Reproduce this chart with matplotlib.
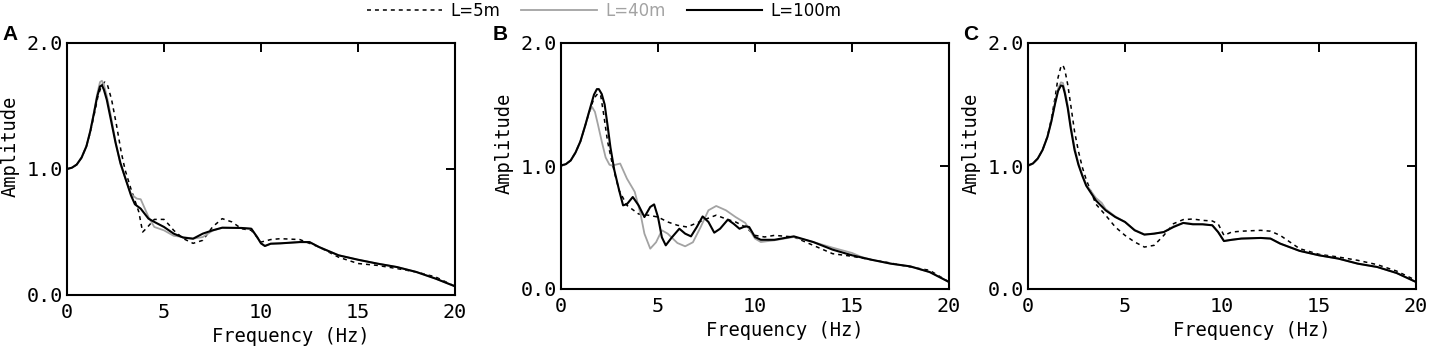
"""
Transfer-function style amplitude spectra for three pile lengths, three panels.
"""
import matplotlib
matplotlib.use('Agg')
import matplotlib.pyplot as plt

# --- panel A -------------------------------------------------------------
a_f5 = [0, 0.25, 0.5, 0.75, 1.0, 1.2, 1.4, 1.6, 1.8, 1.95, 2.1, 2.3, 2.55, 2.8, 3.0, 3.3, 3.5,
        3.7, 3.9, 4.1, 4.5, 5.0, 5.3, 5.5, 6.0, 6.5, 7.0, 7.5, 8.0, 8.5, 9.0, 9.5, 10.0, 10.5,
        11.0, 12.0, 13.0, 14.0, 15.0, 16.0, 17.0, 18.0, 19.0, 20.0]
a_5m = [1.00, 1.01, 1.035, 1.09, 1.18, 1.29, 1.43, 1.58, 1.67, 1.69, 1.66, 1.55, 1.35, 1.13, 0.99,
        0.84, 0.75, 0.66, 0.50, 0.53, 0.60, 0.60, 0.55, 0.513, 0.447, 0.41, 0.434, 0.54, 0.606,
        0.58, 0.526, 0.513, 0.42, 0.44, 0.447, 0.44, 0.38, 0.30, 0.25, 0.235, 0.21, 0.183, 0.143,
        0.069]
a_f40 = [0, 0.25, 0.5, 0.75, 1.0, 1.2, 1.4, 1.55, 1.7, 1.8, 1.9, 2.05, 2.25, 2.5, 2.75, 3.0, 3.3,
         3.6, 3.8, 4.2, 4.5, 5.0, 5.5, 6.0, 6.5, 7.0, 7.5, 8.0, 9.0, 9.5, 9.8, 10.0, 10.2, 10.5,
         11.0, 12.0, 12.5, 13.0, 14.0, 15.0, 16.0, 17.0, 18.0, 19.0, 20.0]
a_40m = [1.00, 1.01, 1.035, 1.09, 1.18, 1.30, 1.46, 1.59, 1.69, 1.70, 1.67, 1.58, 1.43, 1.22,
         1.04, 0.93, 0.80, 0.765, 0.76, 0.62, 0.54, 0.513, 0.47, 0.46, 0.447, 0.46, 0.51, 0.534,
         0.532, 0.526, 0.46, 0.41, 0.389, 0.407, 0.41, 0.42, 0.42, 0.38, 0.315, 0.28, 0.249,
         0.222, 0.183, 0.13, 0.069]
a_f100 = [0, 0.25, 0.5, 0.75, 1.0, 1.2, 1.4, 1.55, 1.7, 1.8, 1.9, 2.05, 2.25, 2.5, 2.75, 3.0, 3.3,
          3.5, 3.8, 4.2, 4.5, 5.0, 5.5, 6.0, 6.5, 7.0, 7.5, 8.0, 9.0, 9.5, 9.8, 10.0, 10.2, 10.5,
          11.0, 12.0, 12.5, 13.0, 14.0, 15.0, 16.0, 17.0, 18.0, 19.0, 20.0]
a_100m = [1.00, 1.01, 1.035, 1.09, 1.18, 1.30, 1.45, 1.57, 1.655, 1.665, 1.63, 1.55, 1.40, 1.21,
          1.05, 0.93, 0.79, 0.72, 0.685, 0.606, 0.58, 0.54, 0.487, 0.455, 0.447, 0.487, 0.513,
          0.534, 0.532, 0.526, 0.46, 0.41, 0.389, 0.407, 0.41, 0.42, 0.42, 0.38, 0.315, 0.28,
          0.249, 0.222, 0.183, 0.13, 0.069]

# --- panel B -------------------------------------------------------------
b_f5 = [0, 0.25, 0.5, 0.75, 1.0, 1.25, 1.5, 1.7, 1.9, 2.05, 2.2, 2.4, 2.6, 2.8, 3.0, 3.4, 4.0,
        4.5, 5.0, 5.5, 6.0, 6.5, 7.0, 7.5, 8.0, 8.5, 9.0, 9.5, 10.0, 10.5, 11.0, 12.0, 13.0, 14.0,
        15.0, 16.0, 17.0, 18.0, 19.0, 20.0]
b_5m = [1.00, 1.015, 1.045, 1.11, 1.20, 1.33, 1.46, 1.55, 1.59, 1.57, 1.42, 1.20, 1.05, 0.92,
        0.80, 0.68, 0.61, 0.60, 0.585, 0.545, 0.518, 0.504, 0.537, 0.57, 0.60, 0.57, 0.545, 0.504,
        0.436, 0.423, 0.436, 0.423, 0.355, 0.287, 0.266, 0.238, 0.211, 0.179, 0.152, 0.057]
b_f40 = [0, 0.25, 0.5, 0.75, 1.0, 1.25, 1.45, 1.6, 1.75, 1.9, 2.1, 2.3, 2.5, 2.6, 2.8, 3.05, 3.4,
         3.8, 4.1, 4.3, 4.6, 4.9, 5.2, 5.5, 6.0, 6.4, 6.8, 7.2, 7.6, 8.0, 8.5, 9.0, 9.5, 10.0,
         10.3, 11.0, 12.0, 13.0, 14.0, 15.0, 15.5, 16.0, 17.0, 18.0, 19.0, 20.0]
b_40m = [1.00, 1.015, 1.045, 1.11, 1.20, 1.33, 1.44, 1.48, 1.44, 1.34, 1.20, 1.07, 1.01, 1.005,
         1.01, 1.02, 0.897, 0.79, 0.61, 0.45, 0.328, 0.38, 0.477, 0.45, 0.374, 0.347, 0.38,
         0.504, 0.64, 0.675, 0.64, 0.585, 0.537, 0.41, 0.382, 0.396, 0.423, 0.382, 0.336, 0.293,
         0.26, 0.238, 0.206, 0.184, 0.138, 0.057]
b_f100 = [0, 0.25, 0.5, 0.75, 1.0, 1.25, 1.5, 1.7, 1.85, 1.95, 2.1, 2.25, 2.4, 2.55, 2.75, 3.0,
          3.2, 3.4, 3.7, 4.0, 4.3, 4.6, 4.8, 5.0, 5.2, 5.4, 5.7, 6.1, 6.4, 6.7, 7.0, 7.3, 7.6,
          7.9, 8.2, 8.6, 8.9, 9.2, 9.5, 9.7, 10.0, 10.3, 11.0, 12.0, 13.0, 14.0, 15.0, 16.0,
          17.0, 18.0, 19.0, 20.0]
b_100m = [1.005, 1.015, 1.045, 1.11, 1.20, 1.33, 1.47, 1.58, 1.625, 1.625, 1.585, 1.50, 1.33,
          1.15, 0.965, 0.80, 0.68, 0.69, 0.748, 0.68, 0.585, 0.667, 0.688, 0.585, 0.42, 0.355,
          0.417, 0.49, 0.45, 0.428, 0.504, 0.59, 0.545, 0.458, 0.49, 0.564, 0.53, 0.49, 0.51,
          0.504, 0.423, 0.40, 0.40, 0.428, 0.382, 0.32, 0.274, 0.238, 0.206, 0.184, 0.138, 0.057]

# --- panel C -------------------------------------------------------------
c_f5 = [0, 0.25, 0.5, 0.75, 1.0, 1.2, 1.4, 1.55, 1.7, 1.8, 1.9, 2.05, 2.2, 2.4, 2.6, 2.8, 3.0,
        3.5, 4.0, 4.5, 5.0, 5.5, 6.0, 6.5, 7.0, 7.5, 8.0, 8.5, 9.0, 9.5, 9.8, 10.1, 10.5, 11.0,
        12.0, 12.5, 13.0, 14.0, 15.0, 16.0, 17.0, 18.0, 19.0, 20.0]
c_5m = [1.00, 1.02, 1.06, 1.13, 1.24, 1.38, 1.56, 1.72, 1.81, 1.82, 1.78, 1.66, 1.50, 1.28, 1.12,
        0.99, 0.89, 0.69, 0.60, 0.504, 0.436, 0.382, 0.341, 0.355, 0.436, 0.531, 0.564, 0.569,
        0.558, 0.553, 0.53, 0.436, 0.463, 0.47, 0.477, 0.47, 0.436, 0.328, 0.282, 0.26, 0.233,
        0.198, 0.146, 0.07]
c_f40 = [0, 0.25, 0.5, 0.75, 1.0, 1.2, 1.4, 1.55, 1.7, 1.8, 1.9, 2.05, 2.2, 2.4, 2.6, 2.8, 3.0,
         3.5, 3.8, 4.0, 4.5, 5.0, 5.5, 6.0, 6.5, 7.0, 7.5, 8.0, 8.5, 9.0, 9.5, 9.8, 10.1, 10.5,
         11.0, 12.0, 12.5, 13.0, 14.0, 15.0, 16.0, 17.0, 18.0, 19.0, 20.0]
c_40m = [1.00, 1.02, 1.06, 1.13, 1.236, 1.36, 1.52, 1.63, 1.68, 1.675, 1.61, 1.49, 1.33, 1.15,
         1.02, 0.93, 0.85, 0.74, 0.70, 0.65, 0.59, 0.545, 0.48, 0.445, 0.45, 0.463, 0.51, 0.537,
         0.53, 0.526, 0.518, 0.463, 0.39, 0.40, 0.41, 0.415, 0.41, 0.369, 0.31, 0.274, 0.247,
         0.206, 0.179, 0.13, 0.057]
c_f100 = [0, 0.25, 0.5, 0.75, 1.0, 1.2, 1.4, 1.55, 1.7, 1.8, 1.9, 2.05, 2.2, 2.4, 2.6, 2.8, 3.0,
          3.5, 4.0, 4.5, 5.0, 5.5, 6.0, 6.5, 7.0, 7.5, 8.0, 8.5, 9.0, 9.5, 9.8, 10.1, 10.5, 11.0,
          12.0, 12.5, 13.0, 14.0, 15.0, 16.0, 17.0, 18.0, 19.0, 20.0]
c_100m = [1.005, 1.02, 1.06, 1.13, 1.236, 1.36, 1.51, 1.61, 1.655, 1.65, 1.59, 1.47, 1.31, 1.13,
          1.01, 0.92, 0.84, 0.72, 0.64, 0.585, 0.545, 0.477, 0.442, 0.45, 0.463, 0.504, 0.537,
          0.526, 0.526, 0.518, 0.463, 0.39, 0.40, 0.41, 0.415, 0.41, 0.369, 0.31, 0.274, 0.247,
          0.206, 0.179, 0.13, 0.057]

panel_letters = ['A', 'B', 'C']
series_labels = ['L=5m', 'L=40m', 'L=100m']
x_ticks = [0, 5, 10, 15, 20]
y_ticks = [0.0, 1.0, 2.0]
y_tick_labels = ['0.0', '1.0', '2.0']

panels = [
    ((a_f5, a_5m), (a_f40, a_40m), (a_f100, a_100m)),
    ((b_f5, b_5m), (b_f40, b_40m), (b_f100, b_100m)),
    ((c_f5, c_5m), (c_f40, c_40m), (c_f100, c_100m)),
]

W, H = 1430, 348
# axes boxes in pixels: left, top, right, bottom
boxes = [(67, 43, 455, 295), (561, 43, 949, 289), (1028, 43, 1416, 289)]
letter_x = [2, 493, 963]

MONO = ['DejaVu Sans Mono']
GRAY = '#a3a3a3'

fig = plt.figure(figsize=(W / 100, H / 100), dpi=100)

handles = []
for i, (box, series) in enumerate(zip(boxes, panels)):
    l, t, r, b = box
    ax = fig.add_axes([l / W, 1 - b / H, (r - l) / W, (b - t) / H])
    (f5, v5), (f40, v40), (f100, v100) = series
    h1, = ax.plot(f5, v5, color='black', lw=1.1, dashes=(2.6, 2.6))
    h2, = ax.plot(f40, v40, color=GRAY, lw=1.3)
    h3, = ax.plot(f100, v100, color='black', lw=1.5)
    if i == 0:
        handles = [h1, h2, h3]

    ax.set_xlim(0, 20)
    ax.set_ylim(0, 2)
    ax.set_xticks(x_ticks)
    ax.set_yticks(y_ticks)
    ax.set_yticklabels(y_tick_labels)
    ax.tick_params(axis='x', bottom=False, top=True, labelbottom=True, direction='in',
                   length=6.5, width=1.4, pad=5.5, labelsize=14.5)
    ax.tick_params(axis='y', left=False, right=True, labelleft=True, direction='in',
                   length=6.5, width=1.4, pad=3, labelsize=14.5)
    for lab in ax.get_xticklabels() + ax.get_yticklabels():
        lab.set_family(MONO)
    for sp in ax.spines.values():
        sp.set_linewidth(1.5)

    hgt = b - t
    ax.set_xlabel('Frequency (Hz)', family=MONO, fontsize=13.5)
    ax.xaxis.set_label_coords(0.576, -42 / hgt)
    ax.xaxis.label.set_va('center')
    ax.set_ylabel('Amplitude', family=MONO, fontsize=13.5)
    ax.yaxis.set_label_coords(-57 / 388, 0.59)
    ax.yaxis.label.set_va('center')

    fig.text(letter_x[i] / W, 1 - 35 / H, panel_letters[i], fontsize=15, fontweight='bold',
             family=['Liberation Sans', 'DejaVu Sans'], ha='left', va='center')

leg = fig.legend(handles, series_labels, loc='center', bbox_to_anchor=(604 / W, 1 - 11 / H),
                 ncol=3, frameon=False, borderpad=0, handlelength=4.55, handletextpad=0.48,
                 columnspacing=1.26, prop={'family': ['DejaVu Sans'], 'size': 12})
leg.get_texts()[1].set_color(GRAY)

fig.savefig('out.png', dpi=100)
